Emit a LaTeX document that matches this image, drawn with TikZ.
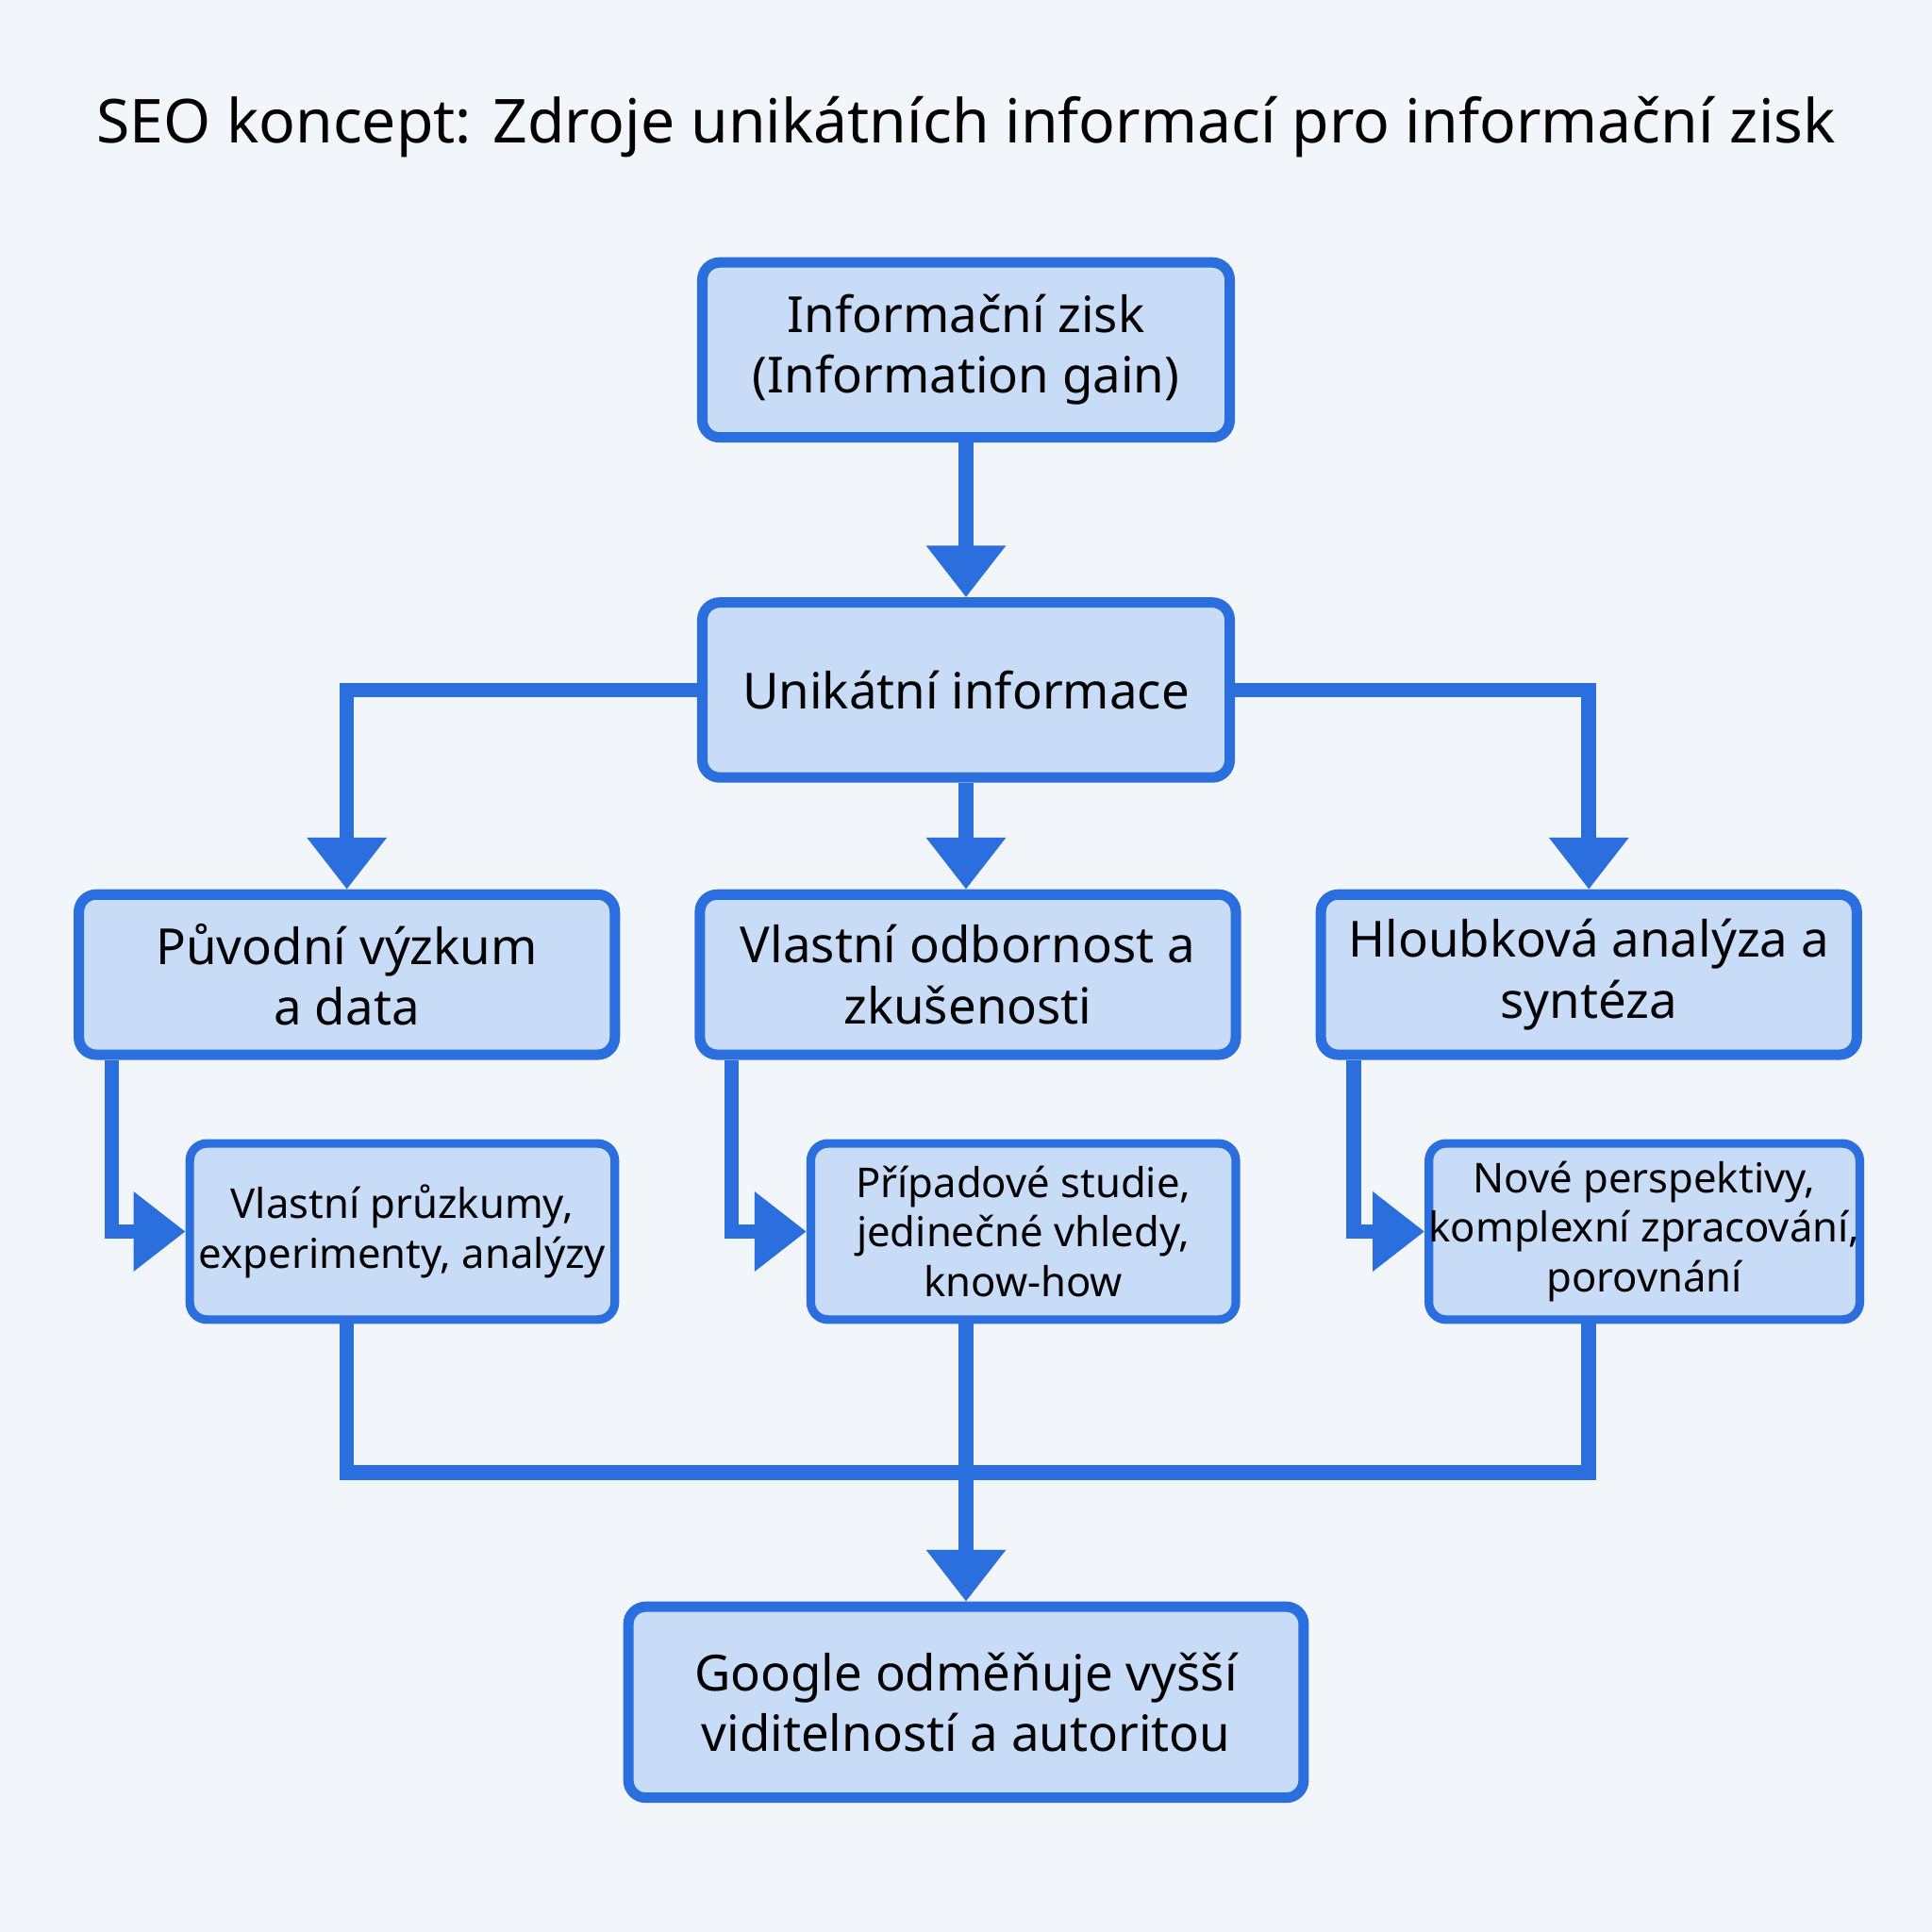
\documentclass[tikz,border=0pt]{standalone}
\usepackage{fontspec}
\setmainfont{Noto Sans}
\usetikzlibrary{arrows.meta,positioning}
\definecolor{boxblue}{HTML}{2B6FDE}
\definecolor{boxfill}{HTML}{C8DCF8}
\definecolor{bgcol}{HTML}{F2F6FA}
\begin{document}
\begin{tikzpicture}
\tikzset{
    mainbox/.style={rectangle, rounded corners=4pt, draw=boxblue, fill=boxfill, line width=2.4pt, align=center, font=\fontsize{11.5}{14}\selectfont\bfseries, inner sep=0pt},
    subbox/.style={rectangle, rounded corners=4pt, draw=boxblue, fill=boxfill, line width=2pt, align=center, font=\fontsize{9.5}{11.5}\selectfont, inner sep=0pt},
    link/.style={draw=boxblue, line width=3.4pt},
    myarrow/.style={link, -{Triangle[width=0.62cm,length=0.42cm]}}
}
\fill[bgcol] (0,0) rectangle (15.68,-15.68);
\useasboundingbox (0,0) rectangle (15.68,-15.68);
\node[font=\fontsize{14}{16}\selectfont\bfseries] (title) at (7.84,-1.03) {SEO koncept: Zdroje unikátních informací pro informační zisk};

\node[mainbox, minimum width=4.28cm, minimum height=1.42cm] (gain) at (7.84,-2.84) {Informační zisk\\(Information gain)};
\node[mainbox, minimum width=4.28cm, minimum height=1.42cm] (unique) at (7.84,-5.60) {Unikátní informace};
\node[mainbox, minimum width=4.35cm, minimum height=1.30cm] (research) at (2.815,-7.91) {Původní výzkum\\a data};
\node[mainbox, minimum width=4.35cm, minimum height=1.30cm] (expert) at (7.855,-7.91) {Vlastní odbornost a\\zkušenosti};
\node[mainbox, minimum width=4.35cm, minimum height=1.30cm] (depth) at (12.895,-7.91) {Hloubková analýza a\\syntéza};
\node[subbox, minimum width=3.45cm, minimum height=1.43cm] (surveys) at (3.265,-9.995) {Vlastní průzkumy,\\experimenty, analýzy};
\node[subbox, minimum width=3.45cm, minimum height=1.43cm] (cases) at (8.305,-9.995) {Případové studie,\\jedinečné vhledy,\\know-how};
\node[subbox, minimum width=3.45cm, minimum height=1.43cm] (views) at (13.345,-9.995) {Nové perspektivy,\\komplexní zpracování,\\porovnání};
\node[mainbox, minimum width=5.48cm, minimum height=1.55cm] (google) at (7.84,-13.815) {Google odměňuje vyšší\\viditelností a autoritou};

% vetveni shora dolu
\draw[myarrow] (gain.south) -- (unique.north);
\draw[myarrow] (unique.west) -| (research.north);
\draw[myarrow] (unique.south) -- (expert.north -| unique.south);
\draw[myarrow] (unique.east) -| (depth.north);

% od hlavnich k vedlejsim
\draw[myarrow] ([xshift=0.31cm]research.south west) |- (surveys.west);
\draw[myarrow] ([xshift=0.30cm]expert.south west) |- (cases.west);
\draw[myarrow] ([xshift=0.31cm]depth.south west) |- (views.west);

% spojeni dole
\coordinate (join) at (7.84,-11.95);
\draw[link] (surveys.south -| research.north) |- (join) -| (views.south -| depth.north);
\draw[link] (cases.south -| join) -- (join);
\draw[myarrow] (join) -- (google.north);
\end{tikzpicture}
\end{document}
